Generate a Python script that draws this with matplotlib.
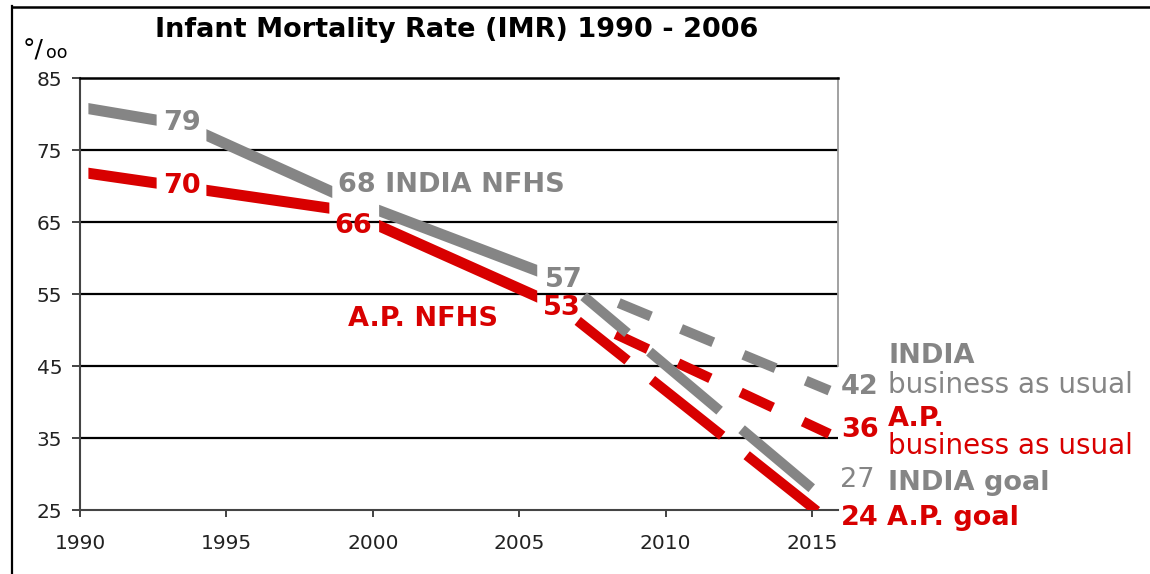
import numpy as np
import matplotlib
matplotlib.use("Agg")
import matplotlib.pyplot as plt
from matplotlib.lines import Line2D

plt.rcParams['font.family'] = ['DejaVu Sans']
plt.rcParams['lines.scale_dashes'] = False

# ---------------- data ----------------
x_ticks = [1990, 1995, 2000, 2005, 2010, 2015]
y_ticks = [25, 35, 45, 55, 65, 75, 85]

# NFHS survey values (labels)
india_nfhs_labels = [79, 68, 57]
ap_nfhs_labels = [70, 66, 53]

# observed trend lines (as drawn)
india_trend_years = [1990, 1993.5, 1999, 2005.6]
india_trend_vals = [81.0, 78.6, 68.5, 58.3]
ap_trend_years = [1990, 1999, 2005.6]
ap_trend_vals = [72.0, 66.7, 54.7]

# projections 2006 -> 2015 (as drawn)
proj_years = [2006, 2015]
india_bau = [57.8, 42.6]
ap_bau = [53.8, 36.7]
india_goal = [58.8, 28.0]
ap_goal = [54.5, 25.4]

# 2015 end values (labels): india bau, ap bau, india goal, ap goal
end_labels = [42, 36, 27, 24]

GRAY = '#858585'
RED = '#d80000'

W, H = 1150, 574
fig = plt.figure(figsize=(W / 100, H / 100), dpi=100)
ax = fig.add_axes([80 / W, 64 / H, 758 / W, 432 / H])
ax.set_xlim(1990, 2015.89)
ax.set_ylim(25, 85)


def band(xs, ys, x0, x1, color, w_px=11):
    xa = np.array([x0] + [x for x in xs if x0 < x < x1] + [x1], float)
    ya = np.interp(xa, xs, ys)
    sx = ax.transData.transform((1, 0))[0] - ax.transData.transform((0, 0))[0]
    sy = ax.transData.transform((0, 1))[1] - ax.transData.transform((0, 0))[1]
    slopes = np.diff(ya) * sy / (np.diff(xa) * sx)
    seg_h = (w_px / 2) * np.sqrt(1 + slopes ** 2) / sy
    h = np.empty_like(xa)
    h[0] = seg_h[0]
    h[-1] = seg_h[-1]
    h[1:-1] = (seg_h[:-1] + seg_h[1:]) / 2
    ax.fill_between(xa, ya - h, ya + h, color=color, lw=0, zorder=3)


def dashed(years, vals, x0, x1, color, on, off, offset, lw=7.3):
    k = (vals[1] - vals[0]) / (years[1] - years[0])
    xa = np.array([x0, x1])
    ya = vals[0] + (xa - years[0]) * k
    ax.plot(xa, ya, color=color, lw=lw, linestyle=(offset, (on, off)),
            dash_capstyle='butt', solid_capstyle='butt', zorder=3)


# observed (segmented around labels)
for a, b in [(1990.27, 1992.6), (1994.3, 1998.6), (2000.2, 2005.6)]:
    band(india_trend_years, india_trend_vals, a, b, GRAY)
for a, b in [(1990.27, 1992.6), (1994.3, 1998.5), (2000.2, 2005.6)]:
    band(ap_trend_years, ap_trend_vals, a, b, RED)

# projections
dashed(proj_years, india_bau, 2008.4, 2015.6, GRAY, 25.1, 23.5, 0)
dashed(proj_years, ap_bau, 2008.3, 2015.6, RED, 25.6, 24.0, 0)
dashed(proj_years, india_goal, 2007.2, 2015.0, GRAY, 66, 20.7, 24.7)
dashed(proj_years, ap_goal, 2007.0, 2015.2, RED, 64.6, 22.5, 18.8)

# axes styling
ax.set_xticks(x_ticks)
ax.set_yticks(y_ticks)
ax.tick_params(axis='both', direction='out', colors='#222222', labelsize=14.5,
               width=1.2)
ax.tick_params(axis='y', length=5.8, pad=7)
ax.tick_params(axis='x', length=5, pad=12.5)
for y in y_ticks[1:-1]:
    ax.axhline(y, color='black', lw=1.6, zorder=1)
ax.spines['top'].set_color('black')
ax.spines['top'].set_linewidth(1.8)
ax.spines['left'].set_color('#444444')
ax.spines['left'].set_linewidth(1.5)
ax.spines['bottom'].set_color('#444444')
ax.spines['bottom'].set_linewidth(1.5)
ax.spines['right'].set_color('#9a9a9a')
ax.spines['right'].set_linewidth(1.3)
ax.spines['right'].set_bounds(45, 85)

# labels on lines
bold = dict(fontsize=19.5, fontweight='bold', va='baseline', ha='left')
ax.text(1992.83, 77.8, str(india_nfhs_labels[0]), color=GRAY, **bold)
ax.text(1998.8, 69.2, f"{india_nfhs_labels[1]} INDIA NFHS", color=GRAY, **bold)
ax.text(2005.87, 56.0, str(india_nfhs_labels[2]), color=GRAY, **bold)
ax.text(1992.83, 69.0, str(ap_nfhs_labels[0]), color=RED, **bold)
ax.text(1998.7, 63.5, str(ap_nfhs_labels[1]), color=RED, **bold)
ax.text(2005.8, 52.1, str(ap_nfhs_labels[2]), color=RED, **bold)
ax.text(1999.15, 50.6, "A.P. NFHS", color=RED, **bold)

# right side labels
xn, xt = 2016.0, 2017.6
ax.text(xt, 45.4, "INDIA", color=GRAY, **bold)
ax.text(xn, 41.1, str(end_labels[0]), color=GRAY, **bold)
ax.text(xt, 41.25, "business as usual", color=GRAY, fontsize=20,
        va='baseline', ha='left')
ax.text(xt, 36.7, "A.P.", color=RED, **bold)
ax.text(xn, 35.15, str(end_labels[1]), color=RED, **bold)
ax.text(xt, 32.8, "business as usual", color=RED, fontsize=20,
        va='baseline', ha='left')
ax.text(xn - 0.05, 28.2, str(end_labels[2]), color=GRAY, fontsize=19.5,
        va='baseline', ha='left')
ax.text(xt, 27.8, "INDIA goal", color=GRAY, **bold)
ax.text(xn, 22.9, str(end_labels[3]), color=RED, **bold)
ax.text(xt - 0.05, 22.9, "A.P. goal", color=RED, **bold)

# title and unit
fig.text(155 / W, 1 - 37 / H, "Infant Mortality Rate (IMR) 1990 - 2006",
         fontsize=19.5, fontweight='bold', color='black', va='baseline', ha='left')
fig.text(23 / W, 1 - 58 / H, "°/", fontsize=18, color='black',
         va='baseline', ha='left')
fig.text(46 / W, 1 - 58 / H, "oo", fontsize=12.5, color='black',
         va='baseline', ha='left')

# figure frame (left and top)
fig.add_artist(Line2D([12 / W, 12 / W], [0, 1 - 6 / H], transform=fig.transFigure,
                      color='black', lw=1.6))
fig.add_artist(Line2D([12 / W, 1], [1 - 7 / H, 1 - 7 / H], transform=fig.transFigure,
                      color='black', lw=1.8))

fig.savefig("out.png", dpi=100)
